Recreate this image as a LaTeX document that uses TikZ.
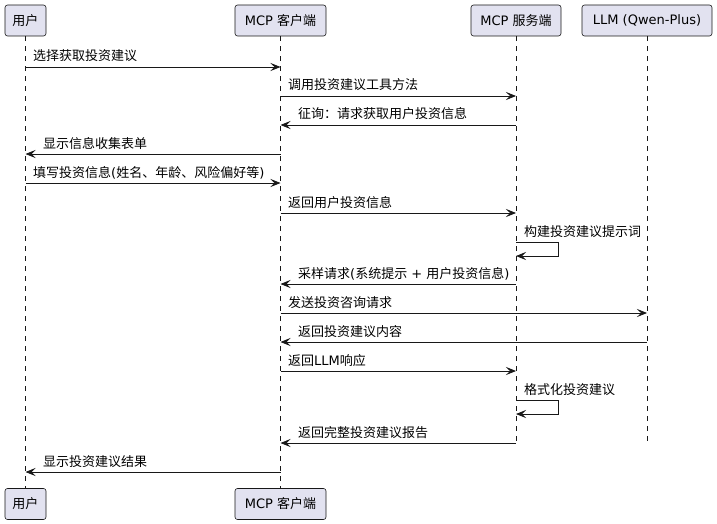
\documentclass[tikz,border=0pt]{standalone}
\usepackage{fontspec}
\setmainfont{Noto Sans CJK SC}
\newfontfamily\lat{DejaVu Sans}
\usetikzlibrary{arrows.meta}
\definecolor{boxfill}{HTML}{E2E2F0}
\definecolor{ink}{HTML}{181818}
\begin{document}
\begin{tikzpicture}[x=1pt,y=-1pt,
 actor/.style={draw=ink,fill=boxfill,rounded corners=2.5pt,line width=0.6pt,minimum height=31pt,inner sep=0pt,font=\fontsize{13}{15}\selectfont,text=black},
 life/.style={draw=ink,line width=0.5pt,dash pattern=on 5pt off 5pt},
 msg/.style={draw=ink,line width=0.8pt,-{Stealth[length=10pt,width=8pt,inset=4pt]}},
 lbl/.style={font=\fontsize{13}{15}\selectfont,inner sep=0pt,anchor=base west,text=black}]
\useasboundingbox (0,0) rectangle (717,524);
% participants
\node[actor,minimum width=41pt] (uT) at (25.5,20.5) {用户};
\node[actor,minimum width=91pt] (cT) at (280.5,20.5) {{\lat MCP }客户端};
\node[actor,minimum width=90pt] (sT) at (516,20.5) {{\lat MCP }服务端};
\node[actor,minimum width=130pt] (lT) at (647,20.5) {\lat LLM (Qwen-Plus)};
\node[actor,minimum width=41pt] (uB) at (25.5,504) {用户};
\node[actor,minimum width=91pt] (cB) at (280.5,504) {{\lat MCP }客户端};
\coordinate (sE) at (516,445);
\coordinate (lE) at (647,445);
% lifelines
\draw[life] (uT) -- (uB);
\draw[life] (cT) -- (cB);
\draw[life] (sT) -- (sE);
\draw[life] (lT) -- (lE);
% messages
\draw[msg] (uT |- 0,67) -- (cT |- 0,67);
\node[lbl] (m1) at (33,61) {选择获取投资建议};
\draw[msg] (cT |- 0,96) -- (sT |- 0,96);
\node[lbl] (m2) at (288,90) {调用投资建议工具方法};
\draw[msg] (sT |- 0,125) -- (cT |- 0,125);
\node[lbl] (m3) at (298,119) {征询：请求获取用户投资信息};
\draw[msg] (cT |- 0,154) -- (uT |- 0,154);
\node[lbl] (m4) at (43,148) {显示信息收集表单};
\draw[msg] (uT |- 0,183) -- (cT |- 0,183);
\node[lbl] (m5) at (33,177) {填写投资信息{\lat (}姓名、年龄、风险偏好等{\lat )}};
\draw[msg] (cT |- 0,213) -- (sT |- 0,213);
\node[lbl] (m6) at (288,207) {返回用户投资信息};
\coordinate (s1) at (558,256);
\draw[msg] (sT |- 0,242) -| (s1) -- (sT |- s1);
\node[lbl] (m7) at (524,236) {构建投资建议提示词};
\draw[msg] (sT |- 0,284) -- (cT |- 0,284);
\node[lbl] (m8) at (298,278) {采样请求{\lat (}系统提示{\lat\ + }用户投资信息{\lat )}};
\draw[msg] (cT |- 0,313) -- (lT |- 0,313);
\node[lbl] (m9) at (288,307) {发送投资咨询请求};
\draw[msg] (lT |- 0,342) -- (cT |- 0,342);
\node[lbl] (m10) at (298,336) {返回投资建议内容};
\draw[msg] (cT |- 0,371) -- (sT |- 0,371);
\node[lbl] (m11) at (288,365) {返回{\lat LLM}响应};
\coordinate (s2) at (558,414);
\draw[msg] (sT |- 0,400) -| (s2) -- (sT |- s2);
\node[lbl] (m12) at (524,394) {格式化投资建议};
\draw[msg] (sT |- 0,443) -- (cT |- 0,443);
\node[lbl] (m13) at (298,437) {返回完整投资建议报告};
\draw[msg] (cT |- 0,472) -- (uT |- 0,472);
\node[lbl] (m14) at (43,466) {显示投资建议结果};
\end{tikzpicture}
\end{document}
